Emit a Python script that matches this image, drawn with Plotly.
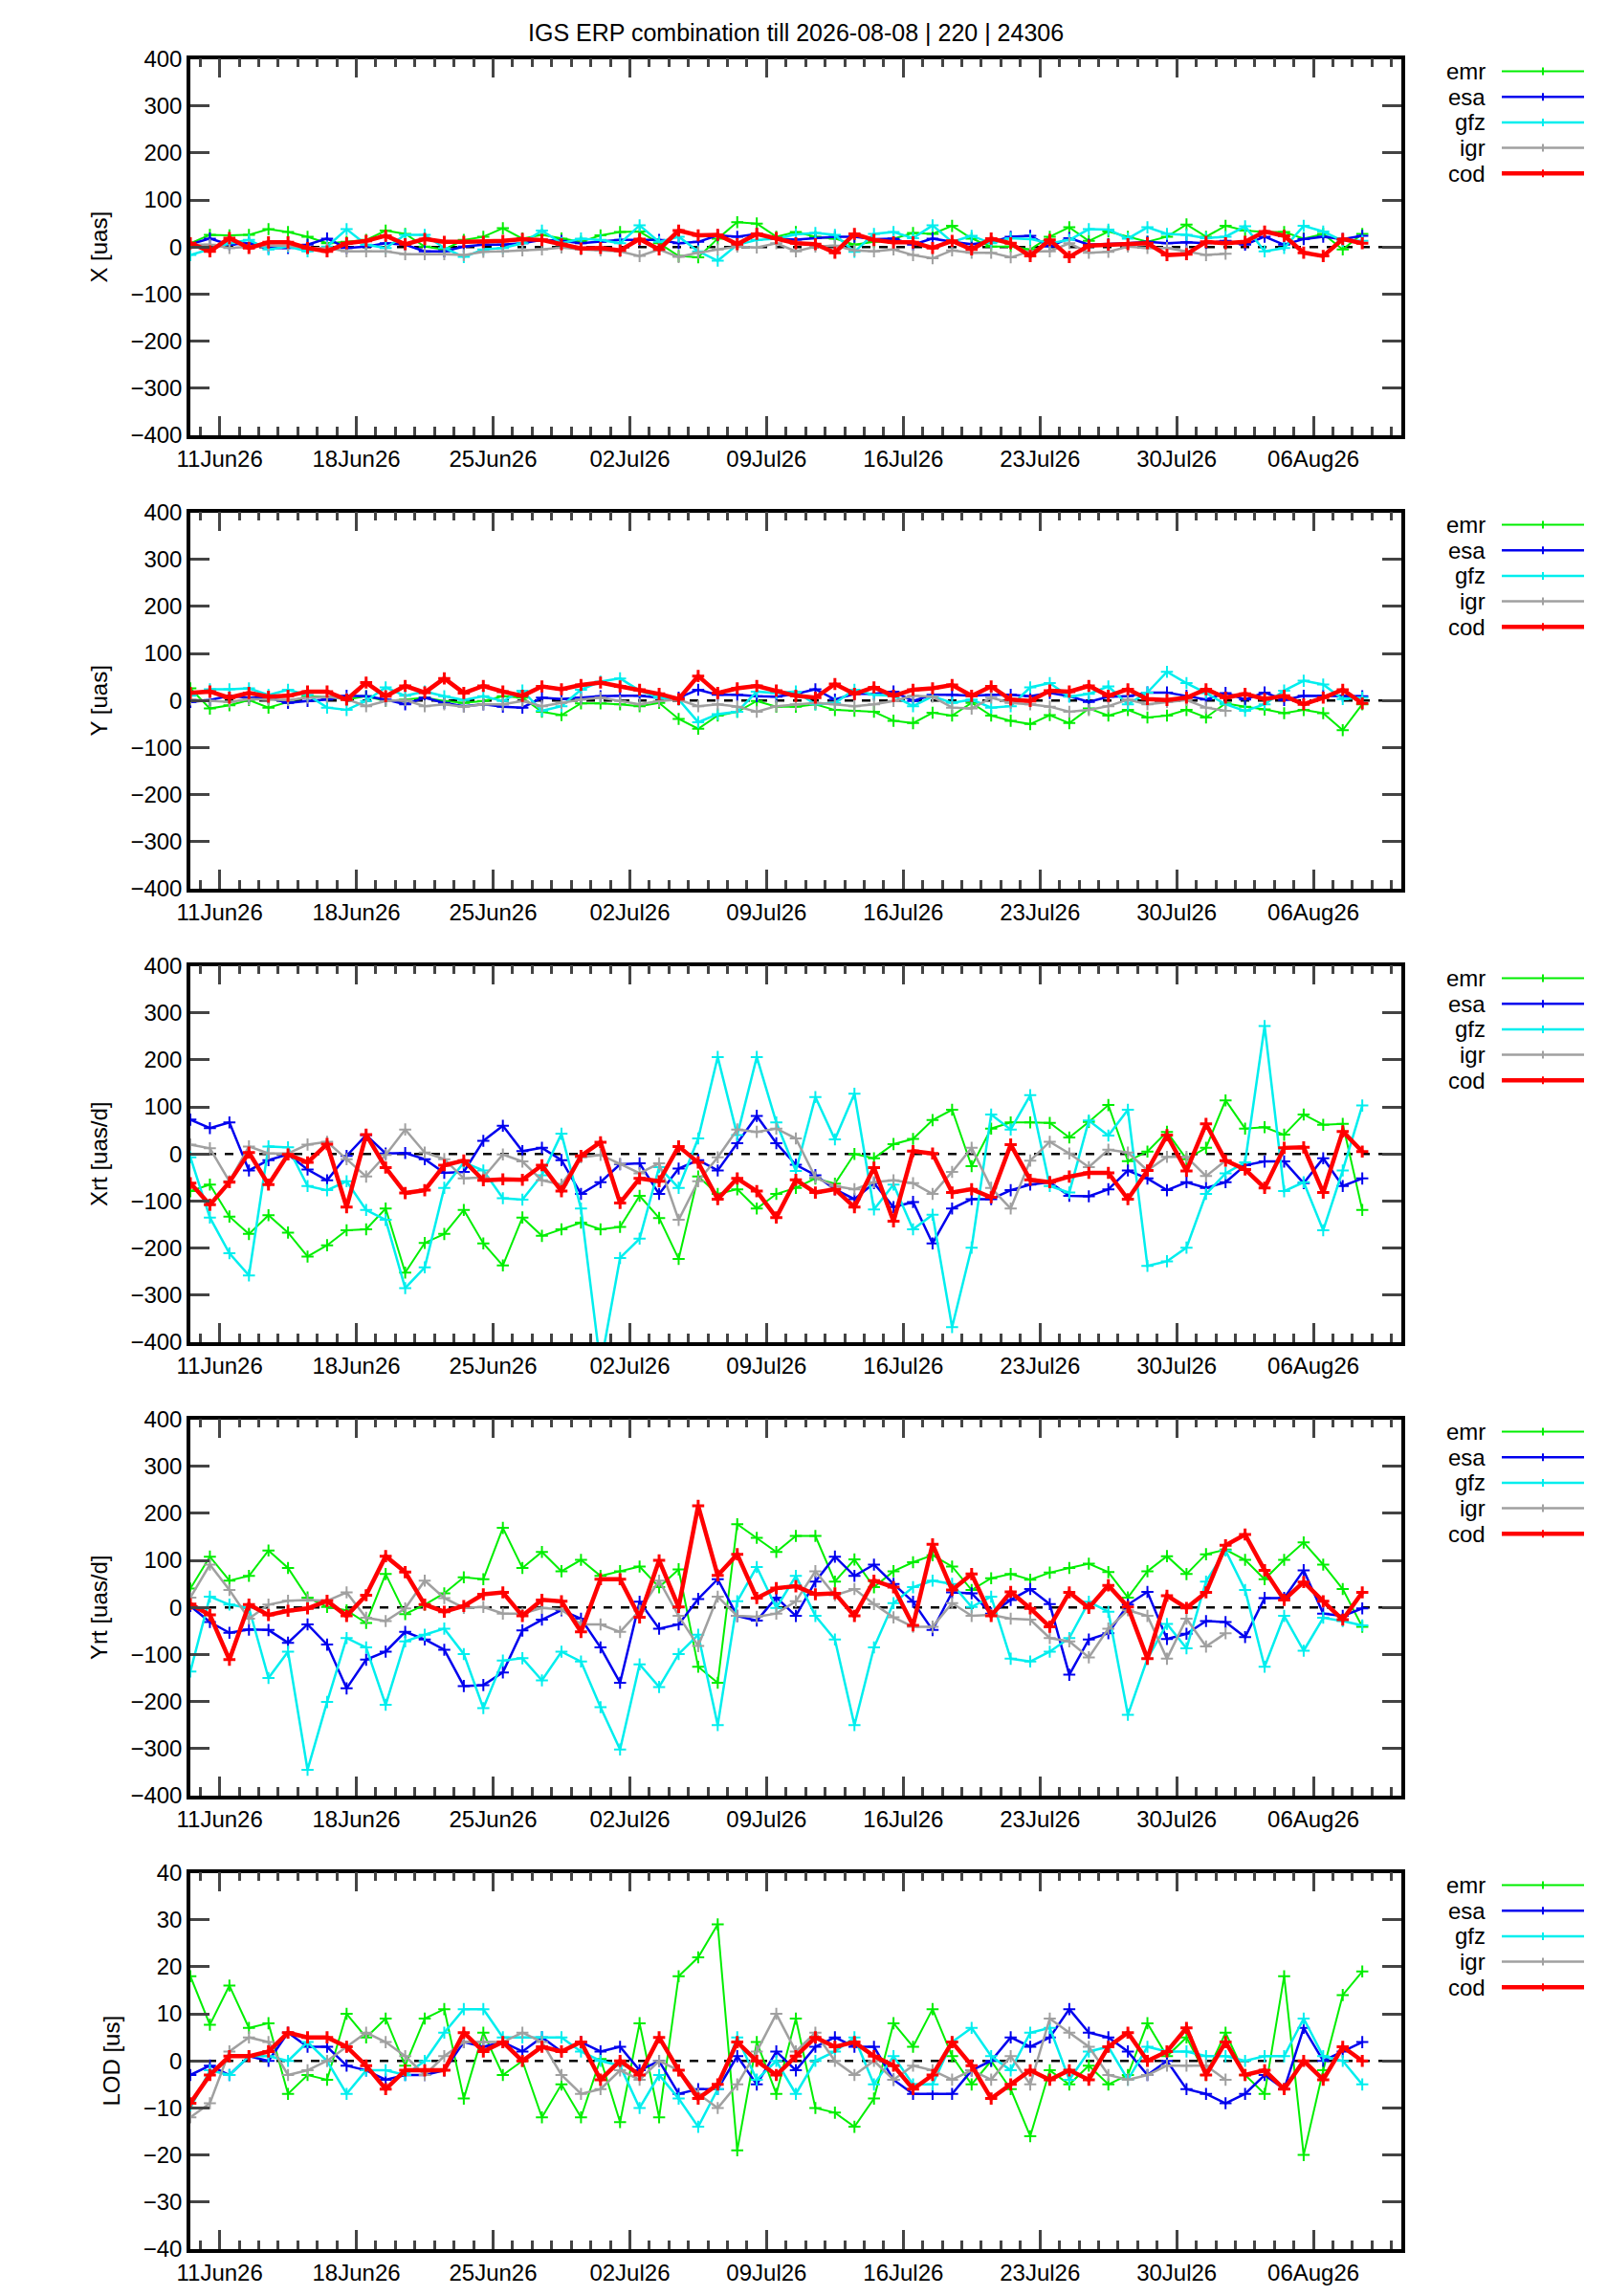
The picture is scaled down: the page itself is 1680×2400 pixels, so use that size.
import plotly.graph_objects as go
import pandas as pd

# daily solutions, 09Jun26 12h .. 08Aug26 12h
dates = pd.date_range("2026-06-09 12:00", periods=61, freq="D")

centers = ["emr", "esa", "gfz", "igr", "cod"]
colors = {"emr": "#00ee00", "esa": "#0000ee", "gfz": "#00eeee", "igr": "#a0a0a0", "cod": "#ff0000"}
widths = {"emr": 2, "esa": 2.5, "gfz": 2.5, "igr": 2.5, "cod": 4.5}

N = None

x_emr = [8,26,25,26,38,32,22,8,11,15,35,28,1,-5,15,22,40,18,26,18,11,25,32,33,8,-19,-22,18,53,50,22,
         32,22,18,5,11,18,30,28,45,18,1,1,-5,22,42,13,33,22,11,22,48,22,45,35,32,32,18,28,-5,28]
x_esa = [6,18,5,8,-2,-2,5,18,-2,1,8,5,-9,-9,1,5,5,8,15,13,8,11,15,15,15,8,11,25,22,28,18,
         16,19,22,22,17,18,5,18,11,6,11,22,24,1,19,5,6,8,11,8,10,8,13,5,22,5,17,22,17,24]
x_gfz = [-17,-5,8,15,-5,1,-9,1,38,5,-2,26,26,-2,-21,-5,-2,8,35,8,18,15,8,46,11,22,-9,-29,5,15,18,
         27,30,26,-10,28,32,19,46,11,24,8,19,17,8,15,38,37,18,42,28,26,19,22,44,-9,-2,45,33,13,13]
x_igr = [5,5,-2,1,3,3,-2,-2,-9,-9,-9,-15,-15,-15,-17,-10,-9,-7,-5,-1,-5,-7,-9,-19,-5,-21,-12,-5,1,-1,8,
         -9,1,3,-7,-9,-5,-17,-24,-7,-12,-12,-22,-9,-9,8,-12,-10,1,-2,-2,-9,-17,-14,N,N,N,N,N,N,N]
x_cod = [8,-9,19,-2,10,10,-2,-9,8,13,24,6,17,11,11,11,13,17,15,6,-3,-2,-7,17,-5,35,25,26,6,28,19,
         8,6,-12,28,15,10,10,-2,13,-5,18,8,-19,15,-21,3,5,6,8,-17,-15,11,8,11,33,24,-12,-19,17,8]

y_emr = [26,-17,-10,1,-15,-3,9,8,2,9,-1,2,6,-1,-5,-1,9,6,-24,-31,-6,-6,-8,-12,-5,-39,-60,-32,-24,-1,-13,
         -13,-8,-20,-22,-24,-43,-48,-26,-32,-5,-32,-43,-50,-31,-48,-17,-32,-20,-36,-32,-20,-36,-6,-13,-19,-27,-20,-27,-63,-8]
y_esa = [-3,1,10,6,6,-5,-1,2,10,9,2,-8,6,-5,-12,-8,-13,-15,6,3,6,9,10,10,6,6,23,12,12,9,8,
         14,24,2,14,14,19,-1,12,12,10,12,12,9,16,9,-3,8,9,17,17,10,2,16,2,17,1,10,10,10,9]
y_gfz = [10,24,24,26,12,23,12,-15,-20,-1,28,10,19,9,1,9,-1,21,-22,-12,23,40,47,21,6,2,-46,-29,-24,19,16,
         19,-8,-5,23,12,10,-12,9,-5,2,-15,-12,28,37,8,14,30,-8,17,61,37,16,-8,-22,-8,21,42,34,3,6]
y_igr = [2,-1,-3,3,2,1,6,8,3,-12,-1,1,-12,-8,-13,-8,-8,-1,-12,-5,2,6,-1,-8,-1,2,-12,-8,-13,-24,-12,
         -8,-5,-8,-12,-8,-1,10,8,-15,-17,6,-5,-8,-13,-24,-20,-12,2,-8,-3,1,-15,-22,N,N,N,N,N,N,N]
y_cod = [16,19,6,16,8,10,19,19,2,38,9,31,17,47,16,31,19,10,30,24,33,38,30,23,14,3,52,16,26,31,21,
         10,6,35,14,28,10,23,26,33,10,30,2,-1,21,19,31,10,24,3,1,6,24,6,14,3,10,-8,6,23,-6]

xrt_emr = [-79,-65,-133,-170,-130,-167,-218,-194,-162,-160,-116,-252,-189,-170,-119,-190,-237,-135,-174,-160,-146,-160,-155,-89,-136,-223,-48,-85,-75,-116,-85,
           -72,-52,-63,0,-9,21,32,72,94,-26,54,67,67,66,35,68,104,-15,5,47,-11,13,114,54,57,41,84,62,64,-119]
xrt_esa = [73,55,67,-35,-13,-1,-33,-56,-4,40,1,2,-11,-40,-38,28,60,6,13,-13,-85,-60,-22,-20,-85,-31,-13,-35,23,81,23,
           -23,-45,-75,-96,-62,-113,-102,-190,-116,-96,-96,-77,-65,-60,-89,-90,-75,-35,-52,-77,-60,-72,-60,-24,-16,-16,-62,-9,-68,-52]
xrt_gfz = [-7,-135,-211,-258,16,14,-68,-77,-58,-119,-140,-285,-241,-72,-18,-35,-94,-97,-45,43,-116,-450,-221,-180,-28,-72,33,206,40,206,67,
           -36,121,31,128,-118,-65,-160,-129,-368,-199,84,52,125,-68,-82,71,39,94,-238,-228,-199,-85,-41,-18,272,-79,-60,-162,-35,103]
xrt_igr = [20,12,-58,16,1,1,20,26,-11,-48,-2,52,3,-11,-52,-50,-1,-16,-56,-65,-7,-2,-21,-41,-20,-140,-58,-7,52,47,54,
           33,-50,-68,-75,-60,-56,-62,-85,-38,13,-72,-116,-14,26,1,-28,9,3,-35,-6,-6,-47,-14,N,N,N,N,N,N,N]
xrt_cod = [-62,-108,-60,3,-65,-1,-18,21,-113,41,-29,-83,-77,-24,-14,-56,-54,-55,-24,-79,-4,25,-104,-52,-58,16,-18,-96,-52,-79,-135,
           -55,-82,-75,-113,-29,-143,6,1,-82,-75,-92,20,-55,-60,-48,-40,-40,-96,-35,40,-36,64,-14,-33,-72,13,14,-82,48,5]

yrt_emr = [40,108,57,67,121,84,21,1,-6,-33,71,-14,6,30,64,60,169,84,118,77,101,67,77,87,43,81,-126,-160,177,148,118,
           152,152,55,102,43,77,96,111,87,37,62,71,59,74,84,93,75,21,77,109,71,113,123,101,60,101,138,91,39,-41]
yrt_esa = [3,-31,-54,-47,-48,-75,-36,-79,-172,-111,-94,-52,-68,-90,-167,-165,-138,-49,-26,-6,-24,-85,-160,12,-45,-36,18,60,-18,-28,21,
           -18,55,108,67,91,50,12,-48,32,30,-13,16,39,7,-143,-68,-55,6,33,-67,-56,-29,-31,-63,20,20,79,-13,-18,-2]
yrt_gfz = [-136,23,6,-1,-150,-94,-345,-201,-65,-85,-207,-72,-58,-45,-99,-214,-113,-108,-155,-94,-115,-212,-302,-121,-169,-99,-58,-250,13,86,-1,
           67,-18,-68,-250,-85,9,43,57,50,1,23,-109,-115,-94,-65,12,-9,-228,-109,-35,-87,55,121,37,-126,-18,-92,-22,-29,-38]
yrt_igr = [21,91,37,-24,6,14,16,14,32,-22,-29,-2,57,20,-1,1,-13,-13,-1,-4,-36,-36,-52,-7,57,-18,-82,23,-18,-20,-13,
           13,77,26,39,7,-21,-41,-41,9,-18,-16,-24,-26,-65,-72,-106,-45,-6,-18,-109,-24,-83,-55,N,N,N,N,N,N,N]
yrt_cod = [7,-16,-111,6,-16,-7,-2,14,-18,26,109,75,6,-9,3,28,32,-18,16,13,-52,60,60,-21,100,1,216,68,113,20,41,
           45,28,30,-18,57,43,-38,134,37,71,-18,33,-2,-41,32,-1,47,1,-109,25,-1,32,132,155,79,16,54,13,-26,32]

lod_emr = [18,7.7,16,7,8,-7,-3,-4,10,5,9,-1,9,11,-8,6,-3,0,-12,-5,-12,0.4,-13,8,-12,18,22,29,-19,4,-7,
           9,-10,-11,-14,-8,8,3,11,1,-5,0,-6,-16,-2,-5,-1,-5,-3,8,1,5,-3,6,-3,-7,18,-20,-2,14,19]
lod_esa = [-3,-1,-3,1,0,6,3,3,-1,-2,-4,-3,-3,-2,4,3,4,2,5,2,4,2,3,-2,0,-7,-6,-6,1,-5,2,
           -2,3,5,3,3,-4,-7,-7,-7,-2,0,5,3,5,11,6,5,2,-3,0,-6,-7,-9,-7,-3,-6,7,0,2,4]
lod_gfz = [-10,-2,-3,1,1,0,4,0,-7,-2,-2,-3,0,6,11,11,5,5,5,5,2,0,-1,-10,-3,-8,-14,-6,5,-4,0,
           -7,0,2,5,-5,1,-5,-5,4,7,1,-2,6,7,-4,2,3,-4,3,2,2,1,1,0,1,1,9,1,0,-5]
lod_igr = [-12,-9,2,5,4,-3,-2,0,3,6,4,1,-3,1,4,4,4,6,4,-3,-7,-6,-2,-4,0,-2,-7,-10,-5,2,10,
           2,6,0,-3,0,-4,-1,-2,-4,-2,-4,1,-5,9,6,3,-3,-4,-3,-1,-1,-1,-4,N,N,N,N,N,N,N]
lod_cod = [-9,-3,1,1,2,6,5,5,3,-1,-6,-2,-2,-2,6,2,4,0,3,2,4,-4,0,-3,5,-2,-8,-5,4,0,-3,
           1,5,3,4,1,-1,-6,-3,4,-1,-8,-5,-2,-4,-2,-4,3,6,0,2,7,-3,4,-3,-2,-6,0,-4,3,0]

panels = [
    ("X [uas]", 400, 100, {"emr": x_emr, "esa": x_esa, "gfz": x_gfz, "igr": x_igr, "cod": x_cod}),
    ("Y [uas]", 400, 100, {"emr": y_emr, "esa": y_esa, "gfz": y_gfz, "igr": y_igr, "cod": y_cod}),
    ("Xrt [uas/d]", 400, 100, {"emr": xrt_emr, "esa": xrt_esa, "gfz": xrt_gfz, "igr": xrt_igr, "cod": xrt_cod}),
    ("Yrt [uas/d]", 400, 100, {"emr": yrt_emr, "esa": yrt_esa, "gfz": yrt_gfz, "igr": yrt_igr, "cod": yrt_cod}),
    ("LOD [us]", 40, 10, {"emr": lod_emr, "esa": lod_esa, "gfz": lod_gfz, "igr": lod_igr, "cod": lod_cod}),
]

W, H = 1680, 2400
FONT = "Liberation Sans"
x0, x1 = 191 / W, 1457 / W

fig = go.Figure()
layout = dict(
    width=W, height=H, margin=dict(l=0, r=0, t=0, b=0, autoexpand=False),
    paper_bgcolor="white", plot_bgcolor="white", showlegend=False,
    font=dict(family=FONT, size=24, color="black"),
)
annotations = [dict(text="IGS ERP combination till 2026-08-08 | 220 | 24306", x=0.5 * (x0 + x1), y=1 - 26 / H,
                    xref="paper", yref="paper", yanchor="middle", showarrow=False, font=dict(size=25))]
shapes = []

for k, (title, lim, step, series) in enumerate(panels):
    top = 53.5 + 474 * k
    bot = 447 + 474 * k
    xa = "xaxis" if k == 0 else f"xaxis{k+1}"
    ya = "yaxis" if k == 0 else f"yaxis{k+1}"
    xr = "x" if k == 0 else f"x{k+1}"
    yr = "y" if k == 0 else f"y{k+1}"
    layout[xa] = dict(
        domain=[x0, x1], anchor=yr, range=["2026-06-09 12:00", "2026-08-10 12:00"], automargin=False,
        tickmode="linear", tick0="2026-06-11", dtick=7 * 86400000, tickformat="%d%b%y",
        ticks="inside", ticklen=20, tickwidth=2.5, mirror="allticks",
        showline=True, linewidth=3.5, linecolor="black", showgrid=False, zeroline=False,
        minor=dict(dtick=86400000, tick0="2026-06-11", ticks="inside", ticklen=9, tickwidth=2.5, showgrid=False),
        tickfont=dict(size=24),
    )
    layout[ya] = dict(
        domain=[1 - bot / H, 1 - top / H], anchor=xr, range=[-lim, lim], automargin=False,
        tickmode="linear", tick0=-lim, dtick=step,
        ticks="inside", ticklen=20, tickwidth=2.5, mirror="allticks",
        showline=True, linewidth=3.5, linecolor="black", showgrid=False, zeroline=False,
        title=dict(text=title, standoff=18, font=dict(size=24)), tickfont=dict(size=24),
    )
    shapes.append(dict(type="line", xref=f"{xr} domain", yref=yr, x0=0, x1=1, y0=0, y1=0,
                       line=dict(color="black", width=2.5, dash="dash"), layer="below"))
    for j, c in enumerate(centers):
        fig.add_trace(go.Scatter(
            x=dates, y=series[c], mode="lines+markers", name=c, xaxis=xr, yaxis=yr,
            line=dict(color=colors[c], width=widths[c]),
            marker=dict(symbol="cross-thin", size=9, line=dict(color=colors[c], width=3 if c == "cod" else 2)),
            cliponaxis=True, connectgaps=False,
        ))
        # key in the gnuplot style: label then line sample
        ly = 1 - (top + 13 + 26.7 * j) / H
        annotations.append(dict(text=c, x=1547 / W, y=ly, xref="paper", yref="paper", xanchor="right",
                                yanchor="middle", showarrow=False, font=dict(size=24)))
        shapes.append(dict(type="line", xref="paper", yref="paper", x0=1562 / W, x1=1648 / W, y0=ly, y1=ly,
                           line=dict(color=colors[c], width=widths[c])))
        shapes.append(dict(type="line", xref="paper", yref="paper", x0=1605 / W, x1=1605 / W,
                           y0=ly - 4 / H, y1=ly + 4 / H, line=dict(color=colors[c], width=2)))

layout["annotations"] = annotations
layout["shapes"] = shapes
fig.update_layout(**layout)
fig.write_html("out.html")
